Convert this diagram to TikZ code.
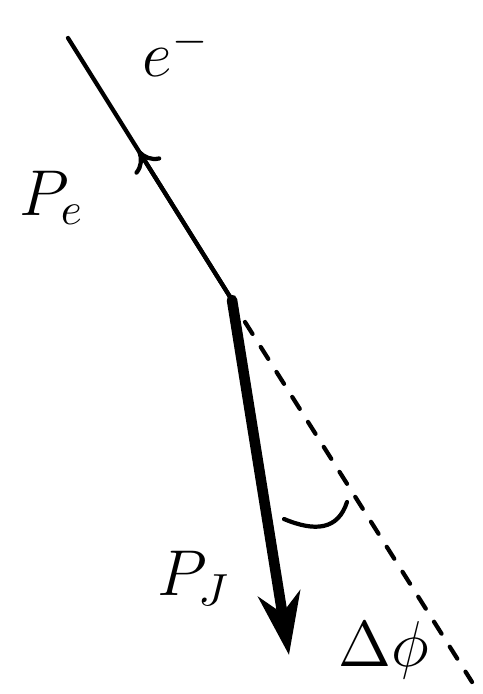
\documentclass[tikz,border=0pt]{standalone}
\usepackage{graphicx}
\usetikzlibrary{calc,arrows.meta}

\tikzset{
    thin line/.style={line width=3pt, line cap=round},
    jet line/.style={line width=7.5pt, line cap=round},
}
\newcommand{\biglabel}[1]{\scalebox{3.2}{\Large #1}}

\begin{document}
\begin{tikzpicture}[x=0.025cm, y=-0.025cm]
    \useasboundingbox (0,0) rectangle (482,694);

    \coordinate (vtx) at (232,300);
    \coordinate (etop) at (68,38);
    \coordinate (jtip) at (289,655);
    \coordinate (dstart) at (245,322);
    \coordinate (dend) at (472,682);
    \coordinate (arcl) at (284,519);
    \coordinate (arcr) at (347,502);

    \draw[thin line] (vtx) to (etop);
    \draw[thin line, -{To[length=14pt,width=22pt]}] (vtx) to ($(vtx)!0.57!(etop)$);

    \draw[jet line, -{Stealth[length=44pt,width=30pt,inset=14pt]}] (vtx) to (jtip);

    \draw[thin line, dash pattern=on 10pt off 11pt] (dstart) to (dend);

    \draw[thin line] (arcl) .. controls (315,532) and (338,530) .. (arcr);

    \node (elabel) at (176,52) {\biglabel{$e^-$}};
    \node (pelabel) at (52,198) {\biglabel{$P_e$}};
    \node (pjlabel) at (194,578) {\biglabel{$P_J$}};
    \node (dphilabel) at (384,650) {\biglabel{$\Delta\phi$}};
\end{tikzpicture}
\end{document}
